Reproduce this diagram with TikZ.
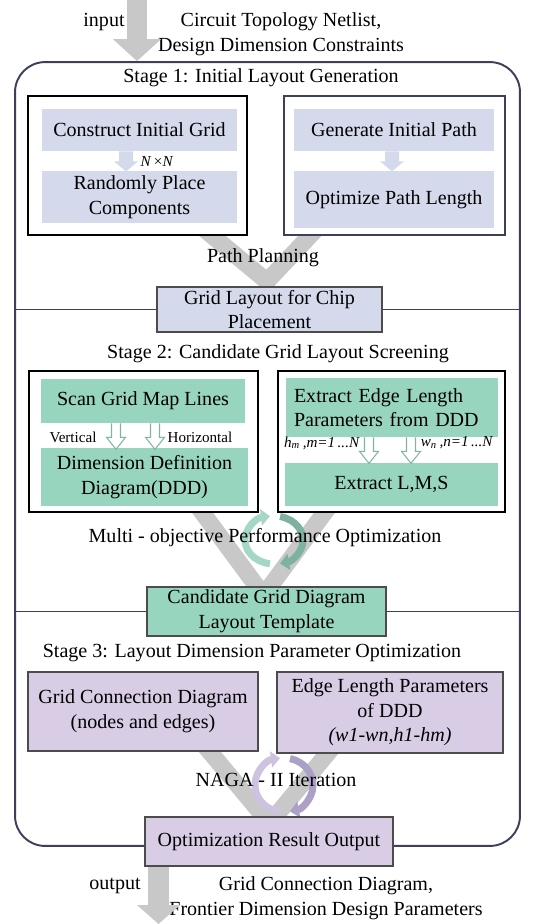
\documentclass[tikz,border=0pt]{standalone}
\usepackage{fontspec}
\setmainfont{Liberation Serif}
\usetikzlibrary{arrows.meta,backgrounds}

\newlength{\pxu}
\setlength{\pxu}{0.02cm}
\newcommand{\txtsz}{\fontsize{11.4}{14}\selectfont}
\newcommand{\lblsz}{\fontsize{8.6}{10}\selectfont}

\definecolor{stageblue}{RGB}{212,217,235}
\definecolor{stagegreen}{RGB}{152,213,191}
\definecolor{stagepurple}{RGB}{216,205,229}
\definecolor{bandgray}{RGB}{200,200,200}
\definecolor{framenavy}{RGB}{60,64,90}
\definecolor{loopgreenA}{RGB}{165,215,198}
\definecolor{loopgreenB}{RGB}{125,178,160}
\definecolor{looppurpleA}{RGB}{205,195,225}
\definecolor{looppurpleB}{RGB}{172,160,198}

\tikzset{
  solidstep/.pic={\fill[stageblue] (-7,0) -- (-7,10) -- (-12,10) -- (0,20) -- (12,10) -- (7,10) -- (7,0) -- cycle;},
  hollowstep/.pic={\draw[stagegreen!85!black, fill=white, line width=0.6pt] (-4.5,0) -- (-4.5,14) -- (-9.5,14) -- (0,26) -- (9.5,14) -- (4.5,14) -- (4.5,0);},
}

\begin{document}
\begin{tikzpicture}[x=0.02cm, y=-0.02cm,
  txt/.style={font=\txtsz, inner sep=0pt, align=center},
  lbl/.style={font=\lblsz, inner sep=0pt},
  panel/.style={draw=black, line width=0.6pt, fill=white, inner sep=0pt},
  fillbox/.style={txt, fill=#1},
  keybox/.style={txt, fill=#1, draw=black!70, line width=0.7pt},
  band/.style={draw=bandgray, line width=0.34cm, line join=round},
  bigarrow/.style={draw=bandgray, line width=0.4cm, -{Triangle[width=0.94cm, length=0.44cm]}},
  loopa/.style={line width=0.14cm, -{Triangle[width=0.32cm, length=0.18cm]}},
]
\useasboundingbox (0,0) rectangle (550,924);

\node[draw=framenavy, line width=1.1pt, rounded corners=0.6cm, minimum width=10.1cm, minimum height=15.68cm] (frame) at (267.5,454) {};

% stage 1
\node[txt] (s1title) at (261,78) {Stage 1: Initial Layout Generation};
\node[panel, minimum width=219\pxu, minimum height=139\pxu] (s1left) at (137.5,165.5) {};
\node[panel, draw=framenavy, minimum width=221\pxu, minimum height=139\pxu] (s1right) at (394.5,165.5) {};
\node[fillbox=stageblue, minimum width=195\pxu, minimum height=42\pxu] (initgrid) at (139.5,130) {Construct Initial Grid};
\node[fillbox=stageblue, minimum width=195\pxu, minimum height=52\pxu] (placecomp) at (139.5,197) {Randomly Place\\Components};
\node[fillbox=stageblue, minimum width=200\pxu, minimum height=42\pxu] (initpath) at (394,130) {Generate Initial Path};
\node[fillbox=stageblue, minimum width=200\pxu, minimum height=57\pxu] (optpath) at (394,199.5) {Optimize Path Length};
\pic at (126,0 |- initgrid.south) {solidstep};
\pic at (392,0 |- initpath.south) {solidstep};
\node[lbl] (nxn) at (157,162) {\textit{N}\,×\textit{N}};
\node[txt] (pathplan) at (263,258) {Path Planning};
\node[keybox=stageblue, minimum width=225\pxu, minimum height=45\pxu] (gridlayout) at (269.5,309.5) {Grid Layout for Chip\\Placement};

% stage 2
\node[txt] (s2title) at (278,354) {Stage 2: Candidate Grid Layout Screening};
\node[panel, minimum width=229\pxu, minimum height=141\pxu] (s2left) at (143.5,441.5) {};
\node[panel, minimum width=227\pxu, minimum height=141\pxu] (s2right) at (391.5,441.5) {};
\node[fillbox=stagegreen, minimum width=204\pxu, minimum height=44\pxu] (scanlines) at (143,401) {Scan Grid Map Lines};
\node[fillbox=stagegreen, minimum width=207\pxu, minimum height=58\pxu] (ddd) at (144.5,477) {Dimension Definition\\Diagram(DDD)};
\node[fillbox=stagegreen, minimum width=212\pxu, minimum height=59\pxu, align=left, text width=196\pxu] (edgelen) at (392,407.5) {Extract Edge Length\\Parameters from DDD};
\node[fillbox=stagegreen, minimum width=213\pxu, minimum height=43\pxu] (lms) at (391.5,484.5) {Extract L,M,S};
\pic at (116,0 |- scanlines.south) {hollowstep};
\pic at (155,0 |- scanlines.south) {hollowstep};
\pic at (369,0 |- edgelen.south) {hollowstep};
\pic at (411,0 |- edgelen.south) {hollowstep};
\node[lbl] (vert) at (73,437) {Vertical};
\node[lbl] (horiz) at (200,437) {Horizontal};
\node[lbl] (hlbl) at (322,443) {\textit{h\textsubscript{m}\,,m=1\,...N}};
\node[lbl] (wlbl) at (457,443) {\textit{w\textsubscript{n}\,,n=1\,...N}};
\coordinate (loop2) at (274,540);
\begin{scope}[shift={(loop2)}, x=1cm, y=1cm]
\draw[loopa, loopgreenA] (262:0.58 and 0.48) arc[start angle=262, end angle=98, x radius=0.58, y radius=0.48];
\draw[loopa, loopgreenB] (78:0.58 and 0.48) arc[start angle=78, end angle=-78, x radius=0.58, y radius=0.48];
\end{scope}
\node[txt] (multiobj) at (265,538) {Multi - objective Performance Optimization};
\node[keybox=stagegreen, minimum width=239\pxu, minimum height=49\pxu] (template) at (266.5,611.5) {Candidate Grid Diagram\\Layout Template};

% stage 3
\node[txt] (s3title) at (252,653) {Stage 3: Layout Dimension Parameter Optimization};
\node[keybox=stagepurple, minimum width=230\pxu, minimum height=79\pxu] (gcd) at (143,711.5) {Grid Connection Diagram\\(nodes and edges)};
\node[keybox=stagepurple, minimum width=226\pxu, minimum height=81\pxu] (elp) at (390,712.5) {Edge Length Parameters\\of DDD\\\textit{(w1-wn,h1-hm)}};
\coordinate (loop3) at (284,785);
\begin{scope}[shift={(loop3)}, x=1cm, y=1cm]
\draw[loopa, looppurpleA] (262:0.58 and 0.54) arc[start angle=262, end angle=98, x radius=0.58, y radius=0.54];
\draw[loopa, looppurpleB] (78:0.58 and 0.54) arc[start angle=78, end angle=-78, x radius=0.58, y radius=0.54];
\end{scope}
\node[txt] (naga) at (276,780) {NAGA - II Iteration};
\node[keybox=stagepurple, minimum width=248\pxu, minimum height=49\pxu] (result) at (269,841.5) {Optimization Result Output};

% input / output
\node[txt] (inlbl) at (104,22) {input};
\node[txt] (intext) at (281,34) {Circuit Topology Netlist,\\Design Dimension Constraints};
\node[txt] (outlbl) at (115,886) {output};
\node[txt] (outtext) at (326,898) {Grid Connection Diagram,\\Frontier Dimension Design Parameters};
\coordinate (intop) at (137,0);
\coordinate (outbot) at (158.5,924);
\draw[bigarrow] (intop) -- (intop |- frame.north);
\draw[bigarrow, line width=0.42cm, -{Triangle[width=0.84cm, length=0.38cm]}] (result.south -| outbot) -- (outbot);

\begin{pgfonlayer}{background}
\draw[framenavy, line width=0.8pt] (frame.west |- gridlayout.center) -- (gridlayout.west);
\draw[framenavy, line width=0.8pt] (gridlayout.east) -- (frame.east |- gridlayout.center);
\draw[framenavy, line width=0.8pt] (frame.west |- template.center) -- (template.west);
\draw[framenavy, line width=0.8pt] (template.east) -- (frame.east |- template.center);
\draw[band] ([shift={(-50,-12)}]s1left.south east) -- ([shift={(-2.5,-5)}]gridlayout.north) -- ([shift={(38,-12)}]s1right.south west);
\draw[band] ([shift={(-65,-12)}]s2left.south east) -- ([shift={(-3,9)}]template.north) -- ([shift={(56,-12)}]s2right.south west);
\draw[band] ([shift={(-59,-12)}]gcd.south east) -- ([shift={(0.5,7)}]result.north) -- ([shift={(61,-12)}]elp.south west);
\end{pgfonlayer}
\end{tikzpicture}
\end{document}
